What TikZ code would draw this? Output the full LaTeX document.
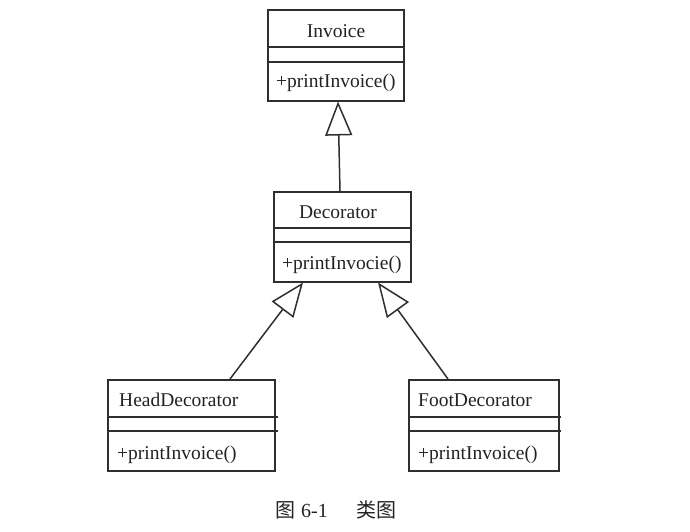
\documentclass[tikz,border=0pt]{standalone}
\usepackage{fontspec}
\setmainfont{Liberation Serif}
\newfontfamily\cjk{Noto Sans CJK SC}
\usetikzlibrary{arrows.meta,calc}
\definecolor{ink}{HTML}{2E2E2E}
\definecolor{txt}{HTML}{222222}
\begin{document}
\begin{tikzpicture}[x=1pt,y=-1pt,
  classbox/.style={draw=ink, line width=1.5pt, rectangle, inner sep=0pt, anchor=north west},
  divider/.style={draw=ink, line width=1.5pt},
  lbl/.style={font=\fontsize{19.5}{22}\selectfont, text=txt, inner sep=0pt, anchor=base west},
  ttl/.style={font=\fontsize{19.5}{22}\selectfont, text=txt, inner sep=0pt, anchor=base},
  inherit/.style={draw=ink, line width=1.5pt, -{Triangle[open, length=34pt, width=27pt, fill=white]}}]
\useasboundingbox (0,0) rectangle (690,531);

% Invoice
\node[classbox, minimum width=136pt, minimum height=91pt] (inv) at (267,9) {};
\draw[divider] (267,47) -- (405,47);
\draw[divider] (267,62) -- (405,62);
\node[ttl] (invT) at (336,37) {Invoice};
\node[lbl] (invM) at (276,87) {+printInvoice()};

% Decorator
\node[classbox, minimum width=137pt, minimum height=90pt] (dec) at (273,191) {};
\draw[divider] (273,228) -- (412,228);
\draw[divider] (273,242) -- (412,242);
\node[ttl] (decT) at (338,218) {Decorator};
\node[lbl] (decM) at (282,269) {+printInvocie()};

% HeadDecorator
\node[classbox, minimum width=167pt, minimum height=91pt] (head) at (107,379) {};
\draw[divider] (107,417) -- (278,417);
\draw[divider] (107,431) -- (278,431);
\node[lbl] (headT) at (119,406) {HeadDecorator};
\node[lbl] (headM) at (117,459) {+printInvoice()};

% FootDecorator
\node[classbox, minimum width=150pt, minimum height=91pt] (foot) at (408,379) {};
\draw[divider] (408,417) -- (561,417);
\draw[divider] (408,431) -- (561,431);
\node[lbl] (footT) at (418,406) {FootDecorator};
\node[lbl] (footM) at (418,459) {+printInvoice()};

% generalizations
\draw[inherit] ($(dec.north west)+(67,0)$) -- ($(inv.south west)+(71,0)$);
\draw[inherit] ($(head.north west)+(123,0)$) -- ($(dec.south west)+(30,0)$);
\draw[inherit] ($(foot.north west)+(40,0)$) -- ($(dec.south west)+(105,0)$);

% caption
\node[font=\fontsize{20}{24}\selectfont, text=txt, inner sep=0pt, anchor=base west] (cap) at (275,517)
  {{\cjk 图}\hspace{6pt}6-1\hspace{29pt}{\cjk 类图}};
\end{tikzpicture}
\end{document}
